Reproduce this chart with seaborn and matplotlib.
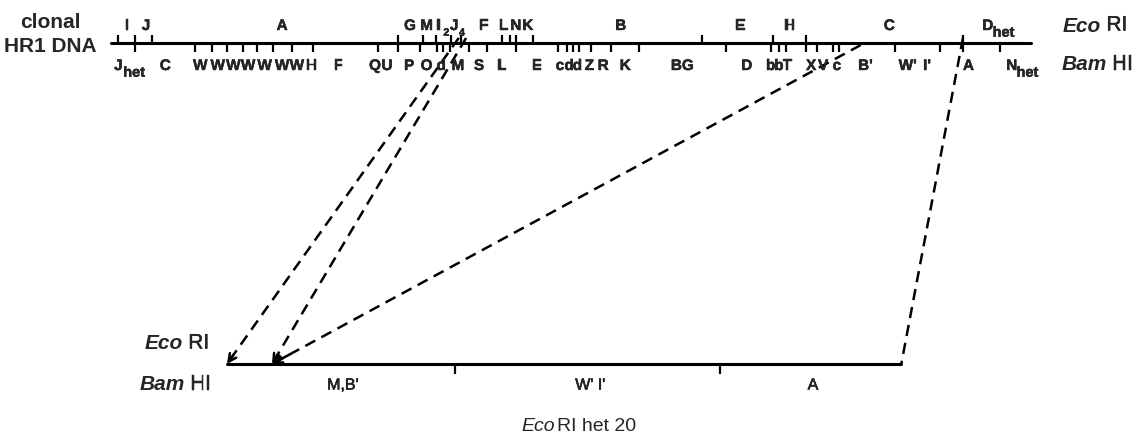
import seaborn as sns
import matplotlib.pyplot as plt
import matplotlib.patheffects as pe
from matplotlib.transforms import offset_copy

# Map positions in map units (0 = left end, 100 = right end of clonal HR1 DNA)
eco_sites = [0.8, 2.6, 4.5, 31.2, 33.9, 35.3, 37.0, 38.0, 42.5, 43.4, 44.0,
             45.9, 64.2, 72.0, 75.5, 92.6]
bam_sites = [2.6, 9.1, 11.0, 12.6, 14.3, 15.9, 17.6, 19.7, 22.0, 29.0, 31.2,
             33.6, 35.4, 36.1, 36.8, 38.9, 40.9, 44.0, 48.6, 49.6, 50.2, 50.9,
             52.2, 54.3, 57.4, 66.8, 71.7, 72.6, 73.4, 75.5, 76.7, 78.5, 79.1,
             85.2, 90.1, 92.6, 96.6]

eco_labels = ["I", "J", "A", "G", "M", "I_2", "J_4", "F", "L", "N", "K",
              "B", "E", "H", "C", "D_het"]
eco_label_pos = [1.7, 3.8, 18.6, 32.5, 34.3, 35.6, 37.3, 40.5, 42.7, 44.0,
                 45.3, 55.4, 68.4, 73.8, 84.6, 95.3]

bam_labels = ["J_het", "C", "W", "W", "W", "W", "W", "W", "W", "H", "F", "Q",
              "U", "P", "O", "d", "M", "S", "L", "E", "c", "d", "d", "Z", "R",
              "K", "BG", "D", "b", "b", "T", "X", "V", "c", "B'", "W'", "I'",
              "A", "N_het"]
bam_label_pos = [0.8, 5.9, 9.7, 11.6, 13.3, 14.9, 16.7, 18.6, 20.2, 21.8,
                 24.7, 28.7, 30.0, 32.4, 34.3, 35.9, 37.7, 40.0, 42.5, 46.3,
                 48.8, 49.8, 50.7, 52.0, 53.5, 55.9, 62.1, 69.1, 71.7, 72.6,
                 73.5, 76.1, 77.4, 78.9, 82.0, 86.6, 88.7, 93.2, 97.9]

# EcoRI het 20 fragment
het20_ends = [12.6, 85.9]
het20_bam_sites = [37.4, 66.2]
het20_labels = ["M,B'", "W' I'", "A"]
het20_label_pos = [25.2, 52.1, 76.3]

# dashed connectors: clonal map position -> het 20 position
conn_top = [37.8, 38.6, 81.5, 92.6]
conn_bottom = [12.6, 17.5, 17.5, 85.9]
conn_arrow = [True, True, True, False]

# layout (rows in pixels from the top)
PX = 9.2
ROW_TOP = 44
ROW_BOT = 365
conn_start_row = [39, 39, 46, 39]

sns.set_theme(style="white")
plt.rcParams['font.family'] = ['Liberation Sans', 'DejaVu Sans']
HEAVY = [pe.withStroke(linewidth=0.3, foreground="black")]

fig = plt.figure(figsize=(11.46, 4.35), dpi=100)
ax = fig.add_axes([0, 0, 1, 1])
ax.set_xlim(-111 / PX, 1035 / PX)
ax.set_ylim(435, 0)
ax.axis("off")


def label(x, y, s, size=11, weight="bold", effects=HEAVY):
    # letter with optional subscript written as "X_sub"
    main, _, sub = s.partition("_")
    ax.text(x, y, main, ha="center", va="center", fontsize=size,
            fontweight=weight, path_effects=effects)
    if sub:
        small = size * (0.7 if sub.isdigit() else 0.95)
        tr = offset_copy(ax.transData, fig=fig, x=3.5, y=-4.8, units="points")
        ax.text(x, y, sub, ha="left", va="center", fontsize=small,
                fontweight=weight, transform=tr, path_effects=effects)


# clonal map backbone and sites
sns.lineplot(x=[0, 100], y=[ROW_TOP, ROW_TOP], ax=ax, color="black", lw=2.2)
ax.vlines(eco_sites, ROW_TOP - 8, ROW_TOP, color="black", lw=1.6)
ax.vlines(bam_sites, ROW_TOP, ROW_TOP + 9, color="black", lw=1.6)

for s, x in zip(eco_labels, eco_label_pos):
    label(x, 27, s)
for s, x in zip(bam_labels, bam_label_pos):
    label(x, 67, s)

# het 20 backbone
sns.lineplot(x=het20_ends, y=[ROW_BOT, ROW_BOT], ax=ax, color="black", lw=2.2)
ax.vlines(het20_bam_sites, ROW_BOT, ROW_BOT + 10, color="black", lw=1.6)
for s, x in zip(het20_labels, het20_label_pos):
    label(x, 386, s, size=11.5, weight="normal",
          effects=[pe.withStroke(linewidth=0.4, foreground="black")])

# dashed connectors
for top, bot, y0, arrow in zip(conn_top, conn_bottom, conn_start_row, conn_arrow):
    ax.plot([top, bot], [y0, ROW_BOT], color="black", lw=1.8,
            linestyle=(0, (4.5, 2.8)))
    if arrow:
        f = 0.03
        ax.annotate("", xy=(bot, ROW_BOT),
                    xytext=(bot + (top - bot) * f, ROW_BOT + (y0 - ROW_BOT) * f),
                    arrowprops=dict(arrowstyle="->", lw=1.8, color="black",
                                    mutation_scale=14, shrinkA=0, shrinkB=0))

# side titles
ax.text(-6.6, 23, "clonal", ha="center", va="center", fontsize=15,
        fontweight="bold")
ax.text(-6.6, 46, "HR1 DNA", ha="center", va="center", fontsize=15,
        fontweight="bold")


def enzyme(x, y, ital, rest, size=15):
    ax.text(x, y, ital, ha="right", va="center", fontsize=size, fontweight="bold",
            fontstyle="italic")
    ax.text(x + 0.6, y, rest, ha="left", va="center", fontsize=size,
            fontweight="normal", path_effects=HEAVY)


enzyme(107.6, 26, "Eco", "RI")
enzyme(108.2, 65, "Bam", "HI")
enzyme(7.8, 344, "Eco", "RI")
enzyme(8.0, 385, "Bam", "HI")

ax.text(48.3, 427, "Eco", ha="right", va="center", fontsize=14,
        fontstyle="italic")
ax.text(48.5, 427, "RI het 20", ha="left", va="center", fontsize=14)

fig.savefig("out.png", dpi=100)
